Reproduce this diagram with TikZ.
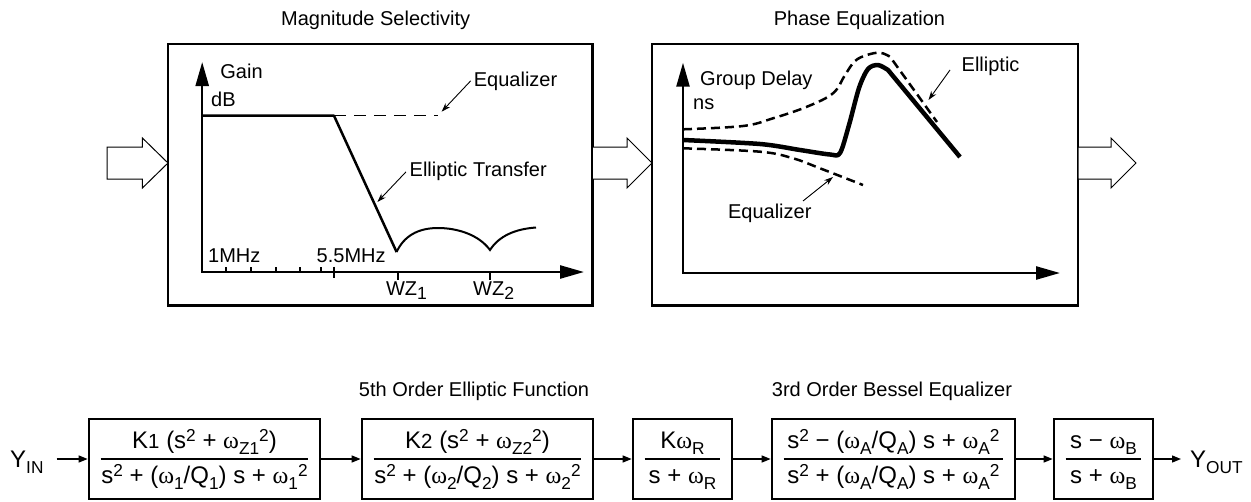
\documentclass[tikz,border=0pt]{standalone}
\usepackage{fontspec}
\setmainfont{Liberation Sans}
\newfontfamily\grk{Liberation Serif}
\usetikzlibrary{arrows.meta,calc}
\newcommand\om{{\grk ω}}
\newcommand\dnx[1]{\raisebox{-0.25em}{\scalebox{0.72}{#1}}}
\newcommand\upx[1]{\raisebox{0.27em}{\scalebox{0.72}{#1}}}
\newcommand\wzsub[1]{\raisebox{-0.22em}{\scalebox{0.88}{#1}}}
\begin{document}
\begin{tikzpicture}[x=1pt,y=-1pt,
  lbl/.style={font=\fontsize{20}{24}\selectfont, inner sep=0},
  frac/.style={font=\fontsize{24}{28}\selectfont, inner sep=0},
  panel/.style={draw, line width=2.7pt, inner sep=0},
  fbox/.style={draw, line width=2.7pt, inner sep=0, minimum height=80},
  axis/.style={line width=2.5pt, line join=miter,
    {Triangle[length=24pt,width=13pt]}-{Triangle[length=24pt,width=13pt]}},
  note/.style={line width=0.9pt, -{Stealth[length=9pt,width=6pt]}},
  flow/.style={line width=1.3pt, -{Triangle[length=9pt,width=7pt]}},
  hollow/.style={line width=1pt, fill=white},
  dsh/.style={line width=2.5pt, dash pattern=on 9pt off 5pt},
  tick/.style={line width=2pt}]
\useasboundingbox (0,0) rectangle (1251,501);

% ---------- top panels ----------
\node[panel, minimum width=424.3, minimum height=261.3] (p1) at (380.15,174.65) {};
\node[panel, minimum width=426, minimum height=261.3] (p2) at (865,174.65) {};
\node[lbl, anchor=base] (t1) at (375.7,25.5) {Magnitude Selectivity};
\node[lbl, anchor=base] (t2) at (859.5,25.5) {Phase Equalization};

% hollow block arrows
\draw[hollow] (107,147) -- (142.4,147) -- (142.4,138) -- (168,163) -- (142.4,188) -- (142.4,179) -- (107,179) -- cycle;
\draw[hollow] (592.3,147) -- (627,147) -- (627,138) -- (652,163) -- (627,188) -- (627,179) -- (592.3,179) -- cycle;
\draw[hollow] (1078,147) -- (1111,147) -- (1111,138) -- (1136,163) -- (1111,188) -- (1111,179) -- (1078,179) -- cycle;

% left panel: magnitude
\draw[axis] (202.2,62) -- (202.2,272) -- (584,272);
\foreach \x in {226,250.7,275.7,300,321} \draw[tick] (\x,272) -- (\x,266.5);
\draw[tick] (333.5,266.5) -- (333.5,277.5);
\draw[tick] (397.6,272) -- (397.6,280);
\draw[tick] (490,272) -- (490,280);
\draw[line width=2.5pt, line join=round] (202.2,115.7) -- (334,115.7) -- (396.6,252);
\draw[line width=2pt] (396.6,252) .. controls (404,236) and (418,228) .. (438,228)
  .. controls (458,228) and (479,235) .. (490,250)
  .. controls (499,236) and (515,229) .. (536,227.5);
\draw[line width=1.5pt, dash pattern=on 12pt off 8pt] (334,115.7) -- (438.2,115.7);
\node[lbl, anchor=base west] (gain) at (220.2,78.3) {Gain};
\node[lbl, anchor=base west] (db) at (211,106) {dB};
\node[lbl, anchor=base west] (m1) at (208,262.7) {1MHz};
\node[lbl, anchor=base west] (m55) at (316.5,262.7) {5.5MHz};
\node[lbl, anchor=base west] (wz1) at (385.8,295) {WZ\wzsub{1}};
\node[lbl, anchor=base west] (wz2) at (473,295) {WZ\wzsub{2}};
\node[lbl, anchor=base west] (eq1) at (473.7,86) {Equalizer};
\node[lbl, anchor=base west] (et1) at (409.5,176) {Elliptic Transfer};
\coordinate (eq1t) at (441.6,111.7);
\coordinate (et1t) at (377.4,202);
\draw[note] ($(eq1.west)+(-3,0)$) -- (eq1t);
\draw[note] ($(et1.west)+(-3.5,1)$) -- (et1t);

% right panel: group delay
\draw[axis] (683,62.7) -- (683,273) -- (1060,273);
\draw[dsh] plot[smooth, tension=0.6] coordinates {(683,129.3) (743,126) (773,118.3) (807,106.7) (833,93.3) (845,75) (855,61) (867,55) (880,52.7) (890,56.7)} -- (937,122);
\draw[dsh] plot[smooth, tension=0.6] coordinates {(683,148.3) (760,151.7) (793,158.3) (820,168.3) (863,185)};
\draw[line width=4.5pt, line join=round] plot[smooth, tension=0.5] coordinates {(683,140) (760,144) (800,150) (830,154.5) (840,153) (849,125) (859,88) (868,69) (878,65) (888,70)} -- (960,157);
\node[lbl, anchor=base west] (gd) at (700,85) {Group Delay};
\node[lbl, anchor=base west] (ns) at (693,109.3) {ns};
\node[lbl, anchor=base west] (el2) at (961.5,71.5) {Elliptic};
\node[lbl, anchor=base west] (eq2) at (727.9,218.3) {Equalizer};
\coordinate (el2s) at (950,70);
\coordinate (el2t) at (928.5,100);
\coordinate (eq2s) at (803,201);
\coordinate (eq2t) at (833,177);
\draw[note] (el2s) -- (el2t);
\draw[note] (eq2s) -- (eq2t);

% ---------- bottom chain ----------
\node[lbl, anchor=base] (t3) at (474,396.7) {5th Order Elliptic Function};
\node[lbl, anchor=base] (t4) at (892,396.7) {3rd Order Bessel Equalizer};

\node[fbox, minimum width=231] (b1) at (204.5,459) {};
\node[fbox, minimum width=231] (b2) at (477.5,459) {};
\node[fbox, minimum width=99] (b3) at (682.5,459) {};
\node[fbox, minimum width=243] (b4) at (893.5,459) {};
\node[fbox, minimum width=99] (b5) at (1103.5,459) {};

\foreach \b in {b1,b2,b3,b4,b5}
  \draw[line width=1.4pt] ($(\b.west)+(13,0)$) -- ($(\b.east)+(-13,0)$);

\node[frac, anchor=base] (n1) at (204.5,448.3) {K{\scalebox{0.85}{1}} (s\upx{2} + \om\dnx{Z1}\upx{2})};
\node[frac, anchor=base] (d1) at (204.5,483.3) {s\upx{2} + (\om\dnx{1}/Q\dnx{1}) s + \om\dnx{1}\upx{2}};
\node[frac, anchor=base] (n2) at (477.5,448.3) {K{\scalebox{0.85}{2}} (s\upx{2} + \om\dnx{Z2}\upx{2})};
\node[frac, anchor=base] (d2) at (477.5,483.3) {s\upx{2} + (\om\dnx{2}/Q\dnx{2}) s + \om\dnx{2}\upx{2}};
\node[frac, anchor=base] (n3) at (682.5,448.3) {K\om\dnx{R}};
\node[frac, anchor=base] (d3) at (682.5,483.3) {s + \om\dnx{R}};
\node[frac, anchor=base] (n4) at (893.5,448.3) {s\upx{2} − (\om\dnx{A}/Q\dnx{A}) s + \om\dnx{A}\upx{2}};
\node[frac, anchor=base] (d4) at (893.5,483.3) {s\upx{2} + (\om\dnx{A}/Q\dnx{A}) s + \om\dnx{A}\upx{2}};
\node[frac, anchor=base] (n5) at (1103.5,448.3) {s − \om\dnx{B}};
\node[frac, anchor=base] (d5) at (1103.5,483.3) {s + \om\dnx{B}};

\node[frac, anchor=base west] (yin) at (10,467) {Y\dnx{IN}};
\node[frac, anchor=base west] (yout) at (1190,467) {Y\dnx{OUT}};

\draw[flow] ($(yin.east |- b1.west)+(13,0)$) -- (b1.west);
\draw[flow] (b1.east) -- (b2.west);
\draw[flow] (b2.east) -- (b3.west);
\draw[flow] (b3.east) -- (b4.west);
\draw[flow] (b4.east) -- (b5.west);
\draw[flow] (b5.east) -- ($(yout.west |- b5.east)+(-9,0)$);
\end{tikzpicture}
\end{document}
